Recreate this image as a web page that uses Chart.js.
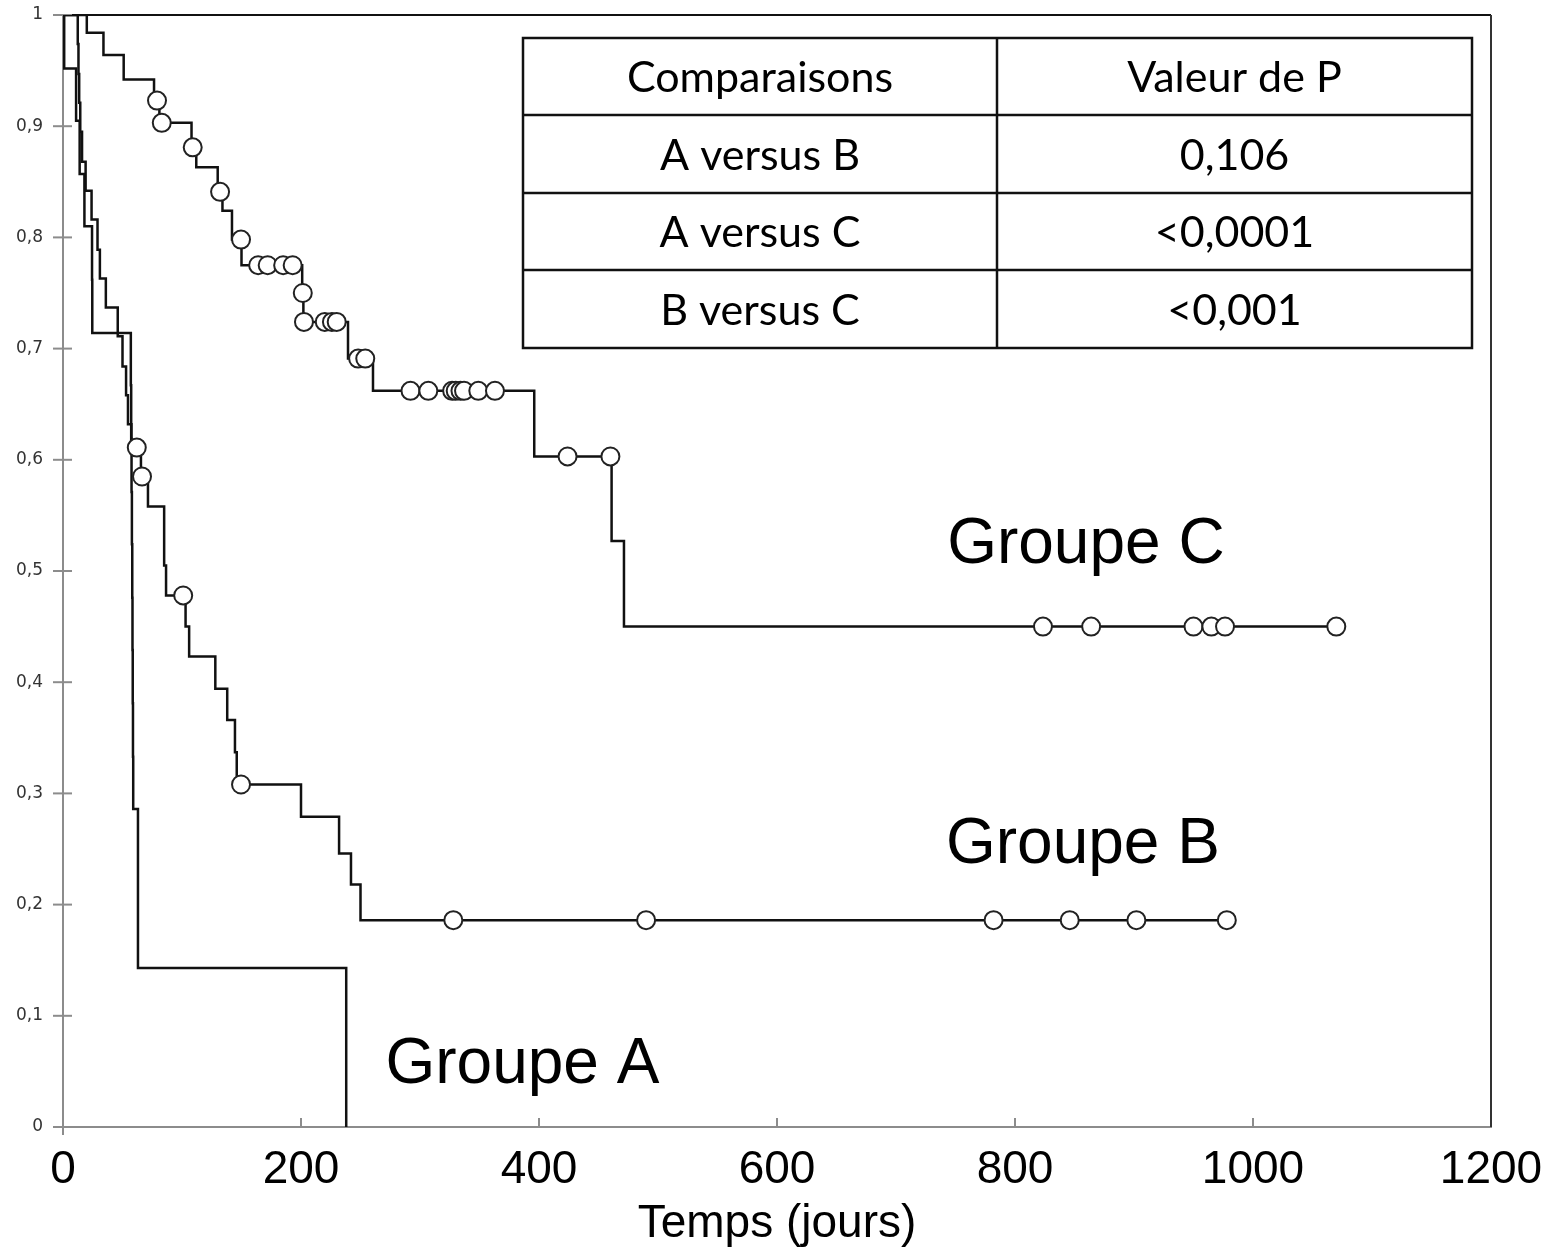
<!DOCTYPE html>
<html><head><meta charset="utf-8">
<script src="https://cdn.jsdelivr.net/npm/chart.js@4.4.1/dist/chart.umd.min.js"></script>
<style>html,body{margin:0;padding:0;background:#fff}#wrap{width:1547px;height:1254px}</style>
</head><body><div id="wrap"><canvas id="c" width="1547" height="1254"></canvas></div>
<script>
// ---------- DATA ----------
const groupNames = ['Groupe A', 'Groupe B', 'Groupe C'];

// Group A: step times (days) and survival after each step
const aDays = [0, 1, 11, 14, 18, 24.4, 24.6, 57, 57.3, 57.6, 57.9, 58.2, 58.4, 58.6, 58.8, 59, 63, 238];
const aSurv = [1, 0.952, 0.905, 0.857, 0.810, 0.762, 0.714, 0.667, 0.619, 0.571, 0.524, 0.476, 0.429, 0.381, 0.333, 0.286, 0.143, 0];
const aCensor = [];

// Group B
const bDays = [0, 12.4, 13, 13.6, 14.5, 16, 19, 24, 29, 31, 36, 46, 50, 53, 54.6, 57.5, 65.5, 71.4, 85, 86.6, 103, 106, 128, 138, 144.5, 146, 200, 232, 242, 250, 978];
const bSurv = [1, 0.974, 0.947, 0.921, 0.895, 0.868, 0.842, 0.816, 0.789, 0.763, 0.737, 0.711, 0.684, 0.658, 0.632, 0.611, 0.585, 0.558, 0.505, 0.478, 0.450, 0.423, 0.394, 0.366, 0.337, 0.308, 0.279, 0.246, 0.218, 0.186, 0.186];
const bCensor = [62, 66.4, 101, 149.6, 328, 490, 782, 846, 902, 978];

// Group C
const cDays = [0, 20, 34, 51, 76.5, 81, 108, 112, 130, 134, 142, 150, 201, 202, 239.5, 260.5, 396, 461, 471.4, 1070];
const cSurv = [1, 0.984, 0.964, 0.942, 0.923, 0.903, 0.881, 0.863, 0.841, 0.824, 0.798, 0.775, 0.750, 0.724, 0.691, 0.662, 0.603, 0.527, 0.450, 0.450];
const cCensor = [79, 83, 109, 132, 149.6, 164, 172, 185, 193, 201.5, 202.5, 220, 226, 230, 248, 254, 292, 307, 327, 330, 334, 337, 349, 363, 424, 460, 823.5, 864, 950, 965, 976.5, 1070];

const yTickLabels = ['0', '0,1', '0,2', '0,3', '0,4', '0,5', '0,6', '0,7', '0,8', '0,9', '1'];
const xTitle = 'Temps (jours)';

const tableHeader = ['Comparaisons', 'Valeur de P'];
const tableComparisons = ['A versus B', 'A versus C', 'B versus C'];
const tablePValues = ['0,106', '<0,0001', '<0,001'];

// ---------- HELPERS ----------
function stepValue(days, surv, t) {
  let v = surv[0];
  for (let i = 0; i < days.length; i++) if (days[i] <= t) v = surv[i];
  return v;
}
function curve(days, surv) { return days.map((d, i) => ({x: d, y: surv[i]})); }
function censors(cens, days, surv) { return cens.map(t => ({x: t, y: stepValue(days, surv, t)})); }

const lineStyle = {type: 'line', stepped: 'before', borderColor: '#111', borderWidth: 2.5, pointRadius: 0, fill: false, order: 2};
const censorStyle = {type: 'scatter', showLine: false, pointRadius: 9, pointBorderWidth: 2, pointBackgroundColor: '#fff', pointBorderColor: '#222', order: 1};

const datasets = [
  Object.assign({label: groupNames[0], data: curve(aDays, aSurv)}, lineStyle),
  Object.assign({label: groupNames[1], data: curve(bDays, bSurv)}, lineStyle),
  Object.assign({label: groupNames[2], data: curve(cDays, cSurv)}, lineStyle),
  Object.assign({label: groupNames[1] + ' censure', data: censors(bCensor, bDays, bSurv)}, censorStyle),
  Object.assign({label: groupNames[2] + ' censure', data: censors(cCensor, cDays, cSurv)}, censorStyle),
];

// ---------- DECOR PLUGIN ----------
const decor = {
  id: 'decor',
  beforeDatasetsDraw(chart) {
    const {ctx, chartArea: ca, scales: {x, y}} = chart;
    ctx.save();
    ctx.strokeStyle = '#111'; ctx.lineWidth = 2;
    ctx.beginPath(); ctx.moveTo(ca.left, ca.top); ctx.lineTo(ca.right, ca.top); ctx.stroke();
    ctx.strokeStyle = '#333';
    ctx.beginPath(); ctx.moveTo(ca.right, ca.top); ctx.lineTo(ca.right, ca.bottom); ctx.stroke();
    ctx.strokeStyle = '#8c8c8c'; ctx.lineWidth = 2;
    y.ticks.forEach(t => {
      const py = y.getPixelForValue(t.value);
      ctx.beginPath(); ctx.moveTo(ca.left - 10, py); ctx.lineTo(ca.left + 9, py); ctx.stroke();
    });
    x.ticks.forEach(t => {
      if (t.value === 0 || t.value === 1200) return;
      const px = x.getPixelForValue(t.value);
      ctx.beginPath(); ctx.moveTo(px, ca.bottom); ctx.lineTo(px, ca.bottom - 9); ctx.stroke();
    });
    ctx.beginPath(); ctx.moveTo(ca.left, ca.bottom); ctx.lineTo(ca.left, ca.bottom + 8); ctx.stroke();
    ctx.restore();
  },
  afterDraw(chart, args, opts) {
    const {ctx, scales: {x, y}} = chart;
    ctx.save();
    ctx.fillStyle = '#000';
    ctx.font = '64px "Liberation Sans", Arial, sans-serif';
    ctx.textAlign = 'left'; ctx.textBaseline = 'alphabetic';
    opts.labels.forEach((l, i) => {
      ctx.fillText(groupNames[i], x.getPixelForValue(l.x), y.getPixelForValue(l.y));
    });
    const cols = opts.table.cols, rows = opts.table.rows;
    ctx.fillStyle = '#fff';
    ctx.fillRect(cols[0], rows[0], cols[2] - cols[0], rows[rows.length - 1] - rows[0]);
    ctx.strokeStyle = '#111'; ctx.lineWidth = 2.5;
    ctx.strokeRect(cols[0], rows[0], cols[2] - cols[0], rows[rows.length - 1] - rows[0]);
    ctx.beginPath();
    for (let r = 1; r < rows.length - 1; r++) { ctx.moveTo(cols[0], rows[r]); ctx.lineTo(cols[2], rows[r]); }
    ctx.moveTo(cols[1], rows[0]); ctx.lineTo(cols[1], rows[rows.length - 1]);
    ctx.stroke();
    ctx.fillStyle = '#000';
    ctx.font = '43px Lato, "Open Sans", sans-serif';
    ctx.textAlign = 'center'; ctx.textBaseline = 'middle';
    const c1 = (cols[0] + cols[1]) / 2, c2 = (cols[1] + cols[2]) / 2;
    const cells = [[tableHeader[0], tableHeader[1]]].concat(tableComparisons.map((c, i) => [c, tablePValues[i]]));
    cells.forEach((row, r) => {
      const cy = (rows[r] + rows[r + 1]) / 2 + 2;
      ctx.fillText(row[0], c1, cy);
      ctx.fillText(row[1], c2, cy);
    });
    ctx.restore();
  }
};

new Chart(document.getElementById('c'), {
  data: {datasets},
  plugins: [decor],
  options: {
    responsive: false,
    devicePixelRatio: 1,
    animation: false,
    layout: {padding: {top: 15, right: 56, left: 0, bottom: 0}},
    plugins: {
      legend: {display: false},
      tooltip: {enabled: false},
      decor: {
        labels: [{x: 271, y: 0.04}, {x: 742, y: 0.237}, {x: 743, y: 0.507}],
        table: {cols: [523, 997, 1472], rows: [38, 115, 193, 270, 348]}
      }
    },
    scales: {
      x: {
        type: 'linear', position: 'bottom', min: 0, max: 1200,
        ticks: {stepSize: 200, autoSkip: false, maxRotation: 0, padding: 3, color: '#000',
                font: {family: '"Liberation Sans", Arial, sans-serif', size: 46},
                callback: v => String(v)},
        grid: {display: true, drawOnChartArea: false, drawTicks: true, tickLength: 13, color: 'rgba(0,0,0,0)'},
        border: {display: true, color: '#8c8c8c', width: 2},
        title: {display: true, text: xTitle, color: '#000', padding: {top: 0, bottom: 2},
                font: {family: '"Liberation Sans", Arial, sans-serif', size: 46}},
        afterFit: s => { s.height = 127; }
      },
      y: {
        type: 'linear', position: 'left', min: 0, max: 1,
        ticks: {stepSize: 0.1, padding: 3, color: '#333',
                font: {family: '"DejaVu Sans", Verdana, sans-serif', size: 17},
                callback: (v, i) => yTickLabels[i]},
        grid: {display: true, drawOnChartArea: false, drawTicks: true, tickLength: 17, color: 'rgba(0,0,0,0)'},
        border: {display: true, color: '#8c8c8c', width: 2},
        afterFit: s => { s.width = 63; }
      }
    }
  }
});
</script>
</body></html>
